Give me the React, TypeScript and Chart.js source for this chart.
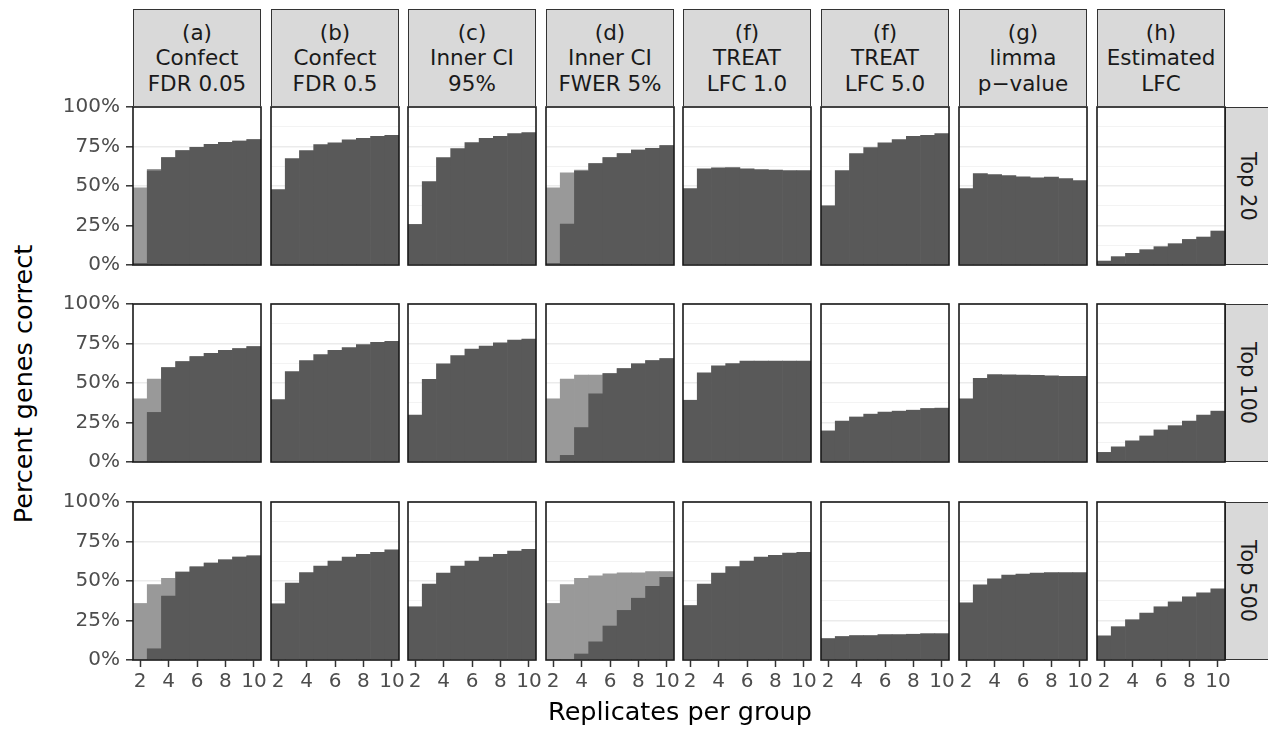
import React, { useEffect, useRef } from "react";
import { Chart, registerables } from "chart.js";

Chart.register(...registerables);

// ---------------- data ----------------
const replicates = ["2", "3", "4", "5", "6", "7", "8", "9", "10"];
const yTickValues = [0, 25, 50, 75, 100];
const methodLabels = [
  ["(a)", "Confect", "FDR 0.05"],
  ["(b)", "Confect", "FDR 0.5"],
  ["(c)", "Inner CI", "95%"],
  ["(d)", "Inner CI", "FWER 5%"],
  ["(f)", "TREAT", "LFC 1.0"],
  ["(f)", "TREAT", "LFC 5.0"],
  ["(g)", "limma", "p\u2212value"],
  ["(h)", "Estimated", "LFC"],
];
const rowLabels = ["Top 20", "Top 100", "Top 500"];

// Top 20 — dark = correct, light = total (only where visible)
const confect005Top20 = [1, 59.6, 68, 72.4, 74.5, 76.4, 77.7, 78.5, 79.4];
const confect005Top20Light = [48.8, 60.6, 68, 72.4, 74.5, 76.4, 77.7, 78.5, 79.4];
const confect05Top20 = [47.8, 67.4, 72.4, 76.2, 77.3, 79.2, 80.2, 81.5, 82.1];
const innerCI95Top20 = [25.7, 52.8, 68, 73.7, 77.5, 80.2, 81.5, 83.2, 83.8];
const innerCIFwerTop20 = [1, 25.9, 59.4, 64.2, 68, 70.5, 72.8, 73.9, 75.6];
const innerCIFwerTop20Light = [48.8, 58.3, 60, 64.2, 68, 70.5, 72.8, 73.9, 75.6];
const treat1Top20 = [48.4, 60.8, 61.5, 61.7, 60.8, 60.4, 60, 59.8, 59.8];
const treat5Top20 = [37.5, 59.8, 70.5, 74.3, 77.3, 79.4, 81.5, 82.1, 83.2];
const limmaTop20 = [48.4, 57.9, 57.3, 56.6, 55.8, 55.2, 55.6, 54.7, 53.5];
const estLfcTop20 = [2.5, 5.3, 7.4, 9.7, 11.6, 13.5, 16.2, 17.7, 21.5];

// Top 100
const confect005Top100 = [0, 31.4, 59.8, 63.6, 66.7, 68.8, 70.7, 71.8, 73];
const confect005Top100Light = [40, 52.5, 59.8, 63.6, 66.7, 68.8, 70.7, 71.8, 73];
const confect05Top100 = [39.5, 57.3, 64.2, 68, 70.7, 72.4, 74.3, 75.7, 76.4];
const innerCI95Top100 = [29.7, 52.3, 62.1, 67.4, 71.5, 73.4, 75.5, 77.2, 77.8];
const innerCIFwerTop100 = [0, 4.2, 21.8, 43.1, 55.9, 59.2, 62.1, 64.2, 65.5];
const innerCIFwerTop100Light = [40, 52.5, 55, 55, 55.9, 59.2, 62.1, 64.2, 65.5];
const treat1Top100 = [39.1, 56.5, 60.9, 62.3, 63.8, 63.8, 63.8, 63.8, 63.8];
const treat5Top100 = [19.7, 25.9, 28.5, 30.3, 31.6, 32.2, 32.8, 33.9, 34.1];
const limmaTop100 = [40, 52.9, 55.4, 55.2, 55, 54.8, 54.6, 54.2, 54.2];
const estLfcTop100 = [6.1, 9.6, 13.4, 16.5, 20.3, 23, 25.9, 29.7, 32.2];

// Top 500
const confect005Top500 = [0, 7.1, 40.4, 55.6, 59, 61.3, 63.4, 65.1, 65.9];
const confect005Top500Light = [35.8, 47.7, 51.7, 55.6, 59, 61.3, 63.4, 65.1, 65.9];
const confect05Top500 = [35.6, 48.7, 55.4, 59.4, 62.6, 65.1, 66.9, 68.2, 69.7];
const innerCI95Top500 = [33.7, 48.1, 55, 59.4, 62.6, 65.1, 66.9, 69, 70.1];
const innerCIFwerTop500 = [0, 0, 3.8, 11.5, 21.5, 31.4, 39.1, 46.7, 52.3];
const innerCIFwerTop500Light = [35.8, 47.7, 51.7, 53.3, 54.6, 55.2, 55.2, 55.9, 55.9];
const treat1Top500 = [34.5, 48.1, 55, 59.2, 62.6, 65.1, 66.3, 67.6, 68.2];
const treat5Top500 = [13.6, 14.9, 15.5, 15.5, 16.1, 16.1, 16.3, 16.7, 16.7];
const limmaTop500 = [36.2, 47.5, 51.3, 53.8, 54.4, 55, 55.4, 55.4, 55.4];
const estLfcTop500 = [15.3, 21.1, 25.5, 29.7, 33.7, 36.8, 40, 42.5, 45];

type Panel = { dark: number[]; light?: number[] };
const panelGrid: Panel[][] = [
  [
    { dark: confect005Top20, light: confect005Top20Light },
    { dark: confect05Top20 },
    { dark: innerCI95Top20 },
    { dark: innerCIFwerTop20, light: innerCIFwerTop20Light },
    { dark: treat1Top20 },
    { dark: treat5Top20 },
    { dark: limmaTop20 },
    { dark: estLfcTop20 },
  ],
  [
    { dark: confect005Top100, light: confect005Top100Light },
    { dark: confect05Top100 },
    { dark: innerCI95Top100 },
    { dark: innerCIFwerTop100, light: innerCIFwerTop100Light },
    { dark: treat1Top100 },
    { dark: treat5Top100 },
    { dark: limmaTop100 },
    { dark: estLfcTop100 },
  ],
  [
    { dark: confect005Top500, light: confect005Top500Light },
    { dark: confect05Top500 },
    { dark: innerCI95Top500 },
    { dark: innerCIFwerTop500, light: innerCIFwerTop500Light },
    { dark: treat1Top500 },
    { dark: treat5Top500 },
    { dark: limmaTop500 },
    { dark: estLfcTop500 },
  ],
];

// ---------------- layout ----------------
const COL_LEFT = [133, 271, 408, 546, 683, 821, 959, 1097];
const ROW_TOP = [107, 304, 502];
const PW = 128;
const PH = 158;
const FONT = "'DejaVu Sans', 'Liberation Sans', sans-serif";
const DARK = "#595959";
const LIGHT = "#999999";

const borderPlugin = {
  id: "panelBorder",
  afterDraw(chart: any) {
    const { ctx, chartArea } = chart;
    ctx.save();
    ctx.strokeStyle = "#1a1a1a";
    ctx.lineWidth = 1.6;
    ctx.strokeRect(
      chartArea.left,
      chartArea.top,
      chartArea.right - chartArea.left,
      chartArea.bottom - chartArea.top
    );
    ctx.restore();
  },
};

function PanelChart({ row, col }: { row: number; col: number }) {
  const ref = useRef<HTMLCanvasElement | null>(null);
  const isLeft = col === 0;
  const isBottom = row === 2;
  const EL = isLeft ? 80 : 16;
  const ER = 16;
  const ET = 24;
  const EB = isBottom ? 45 : 24;
  const w = EL + PW + ER;
  const h = ET + PH + EB;

  useEffect(() => {
    if (!ref.current) return;
    const p = panelGrid[row][col];
    const datasets: any[] = [];
    if (p.light) {
      datasets.push({
        data: p.light,
        backgroundColor: LIGHT,
        order: 2,
        grouped: false,
        barPercentage: 1,
        categoryPercentage: 1,
        borderWidth: 0,
      });
    }
    datasets.push({
      data: p.dark,
      backgroundColor: DARK,
      order: 1,
      grouped: false,
      barPercentage: 1,
      categoryPercentage: 1,
      borderWidth: 0,
    });
    const isMajor = (c: any) =>
      c.tick && yTickValues.indexOf(c.tick.value) >= 0;
    const chart = new Chart(ref.current, {
      type: "bar",
      data: { labels: replicates, datasets },
      options: {
        animation: false,
        responsive: false,
        maintainAspectRatio: false,
        devicePixelRatio: 1,
        events: [],
        layout: {
          padding: {
            top: ET,
            right: ER,
            left: isLeft ? 0 : EL,
            bottom: isBottom ? 0 : EB,
          },
        },
        plugins: { legend: { display: false }, tooltip: { enabled: false } },
        scales: {
          x: {
            type: "category",
            offset: true,
            border: { display: false },
            grid: {
              offset: false,
              drawOnChartArea: false,
              drawTicks: isBottom,
              tickLength: 7,
              tickWidth: 1.5,
              tickColor: (c: any) =>
                c.index % 2 === 0 ? "#333333" : "rgba(0,0,0,0)",
            },
            ticks: {
              display: isBottom,
              autoSkip: false,
              maxRotation: 0,
              minRotation: 0,
              padding: 3,
              color: "#4D4D4D",
              font: { family: FONT, size: 20 },
              callback: (_v: any, i: number) =>
                i % 2 === 0 ? replicates[i] : "",
            },
            afterFit: (s: any) => {
              s.height = isBottom ? EB : 0;
            },
          },
          y: {
            min: 0,
            max: 100,
            border: { display: false },
            grid: {
              color: (c: any) => (isMajor(c) ? "#EBEBEB" : "#F2F2F2"),
              lineWidth: (c: any) => (isMajor(c) ? 1.6 : 0.9),
              drawTicks: isLeft,
              tickLength: 7,
              tickWidth: 1.5,
              tickColor: (c: any) =>
                isMajor(c) ? "#333333" : "rgba(0,0,0,0)",
            },
            ticks: {
              display: isLeft,
              stepSize: 12.5,
              padding: 6,
              color: "#4D4D4D",
              font: { family: FONT, size: 20 },
              callback: (v: any) =>
                yTickValues.indexOf(Number(v)) >= 0 ? v + "%" : "",
            },
            afterFit: (s: any) => {
              s.width = isLeft ? EL : 0;
            },
          },
        },
      } as any,
      plugins: [borderPlugin],
    });
    return () => chart.destroy();
  }, [row, col]);

  return (
    <canvas
      ref={ref}
      width={w}
      height={h}
      style={{
        position: "absolute",
        left: COL_LEFT[col] - EL,
        top: ROW_TOP[row] - ET,
        width: w,
        height: h,
      }}
    />
  );
}

export default function App() {
  const panels: any[] = [];
  for (let r = 0; r < 3; r++) {
    for (let c = 0; c < 8; c++) {
      panels.push(<PanelChart key={`p${r}-${c}`} row={r} col={c} />);
    }
  }
  return (
    <div
      style={{
        position: "fixed",
        left: 0,
        top: 0,
        width: 1268,
        height: 734,
        background: "#ffffff",
        overflow: "hidden",
        fontFamily: FONT,
      }}
    >
      {methodLabels.map((lines, c) => (
        <div
          key={`s${c}`}
          style={{
            position: "absolute",
            left: COL_LEFT[c],
            top: 9,
            width: PW,
            height: ROW_TOP[0] - 9,
            boxSizing: "border-box",
            background: "#D9D9D9",
            border: "1.3px solid #333333",
            display: "flex",
            flexDirection: "column",
            alignItems: "center",
            justifyContent: "center",
            color: "#1A1A1A",
            fontSize: 21.5,
            lineHeight: 1.19,
            textAlign: "center",
            whiteSpace: "nowrap",
          }}
        >
          {lines.map((t, i) => (
            <div key={i}>{t}</div>
          ))}
        </div>
      ))}
      {rowLabels.map((t, r) => (
        <div
          key={`r${r}`}
          style={{
            position: "absolute",
            left: COL_LEFT[7] + PW,
            top: ROW_TOP[r],
            width: 1268 - (COL_LEFT[7] + PW) + 2,
            height: PH,
            boxSizing: "border-box",
            background: "#D9D9D9",
            border: "1.3px solid #333333",
            display: "flex",
            alignItems: "center",
            justifyContent: "center",
            color: "#1A1A1A",
            fontSize: 21,
          }}
        >
          <span style={{ writingMode: "vertical-rl", whiteSpace: "nowrap" }}>
            {t}
          </span>
        </div>
      ))}
      {panels}
      <div
        style={{
          position: "absolute",
          left: 23.5,
          top: 383.5,
          transform: "translate(-50%, -50%) rotate(-90deg)",
          whiteSpace: "nowrap",
          fontSize: 25.5,
          lineHeight: 1,
          color: "#000000",
        }}
      >
        Percent genes correct
      </div>
      <div
        style={{
          position: "absolute",
          left: 680,
          top: 699,
          transform: "translateX(-50%)",
          whiteSpace: "nowrap",
          fontSize: 25.5,
          lineHeight: 1,
          color: "#000000",
        }}
      >
        Replicates per group
      </div>
    </div>
  );
}
